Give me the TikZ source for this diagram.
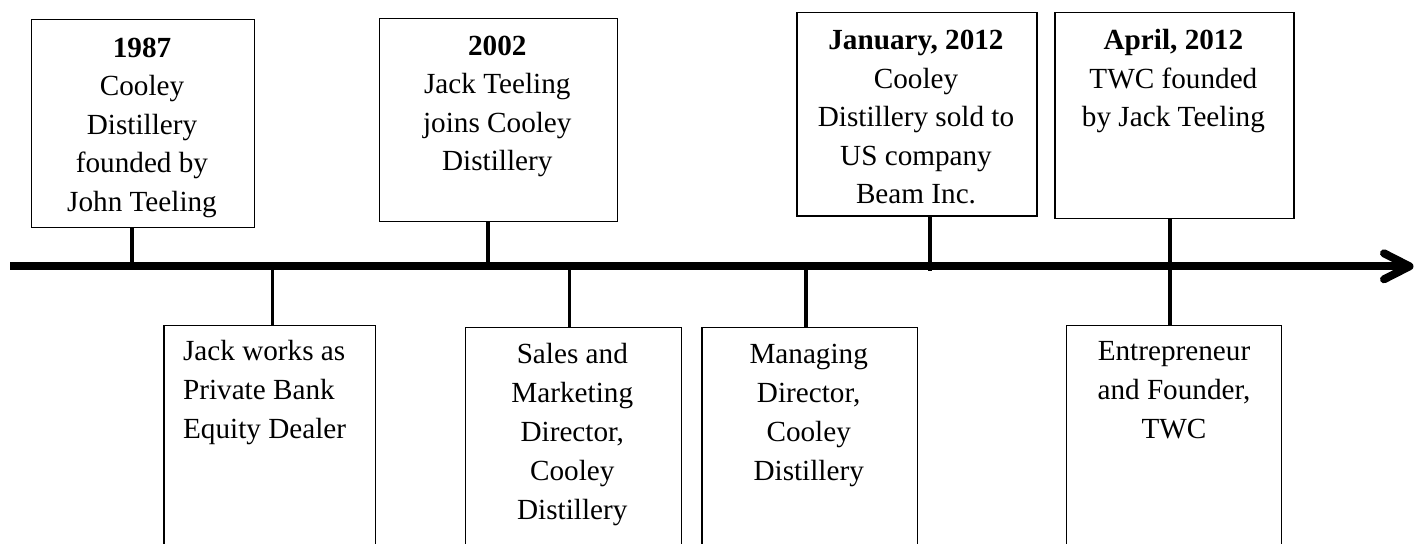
\documentclass[tikz,border=0pt]{standalone}
\usepackage{fontspec}
\setmainfont{Liberation Serif}
\usetikzlibrary{calc}
\newcommand{\fs}{\rule{0pt}{10.5pt}}
\begin{document}
\begin{tikzpicture}[x=0.5pt,y=-0.5pt,
  box/.style={draw=black, line width=0.65pt, inner sep=0pt, anchor=north west, fill=none},
  toptxt/.style={inner sep=0pt, align=center, anchor=north, font=\fontsize{14.6}{19.25}\selectfont},
  bottxt/.style={inner sep=0pt, align=center, anchor=north, font=\fontsize{14.6}{19.5}\selectfont},
  conn/.style={draw=black, line width=1.65pt},
  axisline/.style={draw=black, line width=4pt}]
\clip (0,0) rectangle (1421,543);
\fill[white] (0,0) rectangle (1421,543);
% top boxes
\node[box, minimum width=111.5pt, minimum height=104pt] (b1) at (30.5,18.5) {};
\node[box, minimum width=119pt, minimum height=101.5pt] (b2) at (378.5,17.5) {};
\node[box, minimum width=120pt, minimum height=101.9pt] (b3) at (796.2,11.5) {};
\node[box, minimum width=119.5pt, minimum height=103pt] (b4) at (1054.2,11.5) {};
% bottom boxes
\node[box, minimum width=105.7pt, minimum height=120pt] (b5) at (163.2,324.5) {};
\node[box, minimum width=108pt, minimum height=120pt] (b6) at (464.5,326.5) {};
\node[box, minimum width=107.7pt, minimum height=120pt] (b7) at (701.2,326.5) {};
\node[box, minimum width=107.5pt, minimum height=120pt] (b8) at (1065.5,324.8) {};
% texts
\node[toptxt] (t1) at (142,35.7) {\fs\textbf{1987}\\Cooley\\Distillery\\founded by\\John Teeling};
\node[toptxt] (t2) at (497.3,34) {\fs\textbf{2002}\\Jack Teeling\\joins Cooley\\Distillery};
\node[toptxt] (t3) at (916,28.3) {\fs\textbf{January, 2012}\\Cooley\\Distillery sold to\\US company\\Beam Inc.};
\node[toptxt] (t4) at (1173.4,28.3) {\fs\textbf{April, 2012}\\TWC founded\\by Jack Teeling};
\node[bottxt, align=left, anchor=north west] (t5) at (182.7,339) {\fs Jack works as\\Private Bank\\Equity Dealer};
\node[bottxt] (t6) at (572.3,342.3) {\fs Sales and\\Marketing\\Director,\\Cooley\\Distillery};
\node[bottxt] (t7) at (808.7,341.7) {\fs Managing\\Director,\\Cooley\\Distillery};
\node[bottxt] (t8) at (1174,339) {\fs Entrepreneur\\and Founder,\\TWC};
% axis
\coordinate (axL) at (10,266.3);
\coordinate (axR) at (1409.5,266.3);
\coordinate (c1) at (132,266.3);
\coordinate (c2) at (272.3,266.3);
\coordinate (c3) at (488,266.3);
\coordinate (c4) at (569.5,266.3);
\coordinate (c5) at (806,266.3);
\coordinate (c6) at (930,271);
\coordinate (c7) at (1170,266.3);
\draw[axisline] (axL) -- (axR);
\draw[axisline, line cap=round, line join=round] ($(axR)+(-25.5,-13)$) -- (axR) -- ($(axR)+(-25.5,13)$);
% connectors
\draw[conn] (b1.south -| c1) -- (c1);
\draw[conn] (c2) -- (b5.north -| c2);
\draw[conn] (b2.south -| c3) -- (c3);
\draw[conn] (c4) -- (b6.north -| c4);
\draw[conn] (c5) -- (b7.north -| c5);
\draw[conn] (b3.south -| c6) -- (c6);
\draw[conn] (b4.south -| c7) -- (b8.north -| c7);
\end{tikzpicture}
\end{document}
